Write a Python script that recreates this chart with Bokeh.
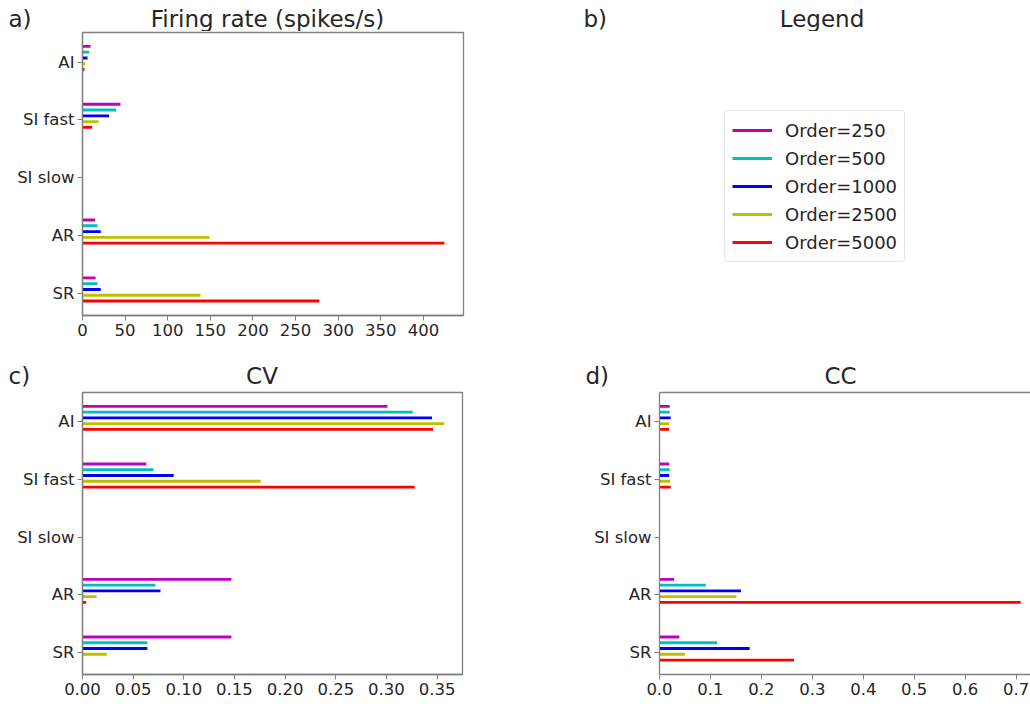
import numpy as np
from bokeh.plotting import figure
from bokeh.models import (ColumnDataSource, FixedTicker, Range1d, Label, Legend,
                          LegendItem, NumeralTickFormatter, LinearAxis)
from bokeh.layouts import row, column
from bokeh.embed import file_html
from bokeh.resources import INLINE

# ---------------- data ----------------
categories = ["SR", "AR", "SI slow", "SI fast", "AI"]
orders = ["Order=250", "Order=500", "Order=1000", "Order=2500", "Order=5000"]
colors = ["#bf00bf", "#00bfbf", "#0000ff", "#bfbf00", "#ff0000"]

# values per order, in category order SR, AR, SI slow, SI fast, AI
rate_250 = [15.3, 14.9, 0.0, 44.6, 9.4]
rate_500 = [17.6, 17.6, 0.0, 39.5, 7.8]
rate_1000 = [21.5, 21.5, 0.0, 31.3, 5.9]
rate_2500 = [138.5, 149.0, 0.0, 18.8, 3.1]
rate_5000 = [277.9, 424.6, 0.0, 11.4, 2.3]

cv_250 = [0.147, 0.147, 0.0, 0.063, 0.301]
cv_500 = [0.064, 0.072, 0.0, 0.070, 0.326]
cv_1000 = [0.064, 0.077, 0.0, 0.090, 0.345]
cv_2500 = [0.024, 0.014, 0.0, 0.176, 0.357]
cv_5000 = [0.0, 0.0036, 0.0, 0.328, 0.346]

cc_250 = [0.039, 0.029, 0.0, 0.019, 0.020]
cc_500 = [0.113, 0.091, 0.0, 0.020, 0.020]
cc_1000 = [0.177, 0.160, 0.0, 0.019, 0.022]
cc_2500 = [0.050, 0.151, 0.0, 0.021, 0.019]
cc_5000 = [0.264, 0.709, 0.0, 0.022, 0.019]

rate_ticks = [0, 50, 100, 150, 200, 250, 300, 350, 400]
cv_ticks = [0.0, 0.05, 0.10, 0.15, 0.20, 0.25, 0.30, 0.35]
cc_ticks = [0.0, 0.1, 0.2, 0.3, 0.4, 0.5, 0.6, 0.7]

panel_titles = ["Firing rate (spikes/s)", "Legend", "CV", "CC"]
panel_letters = ["a)", "b)", "c)", "d)"]

# ---------------- style ----------------
FONT = "DejaVu Sans"
SPINE = "#808080"
TEXT = "#262626"
BAR_OFFSETS = [0.27, 0.17, 0.07, -0.03, -0.13]
BAR_H = 0.05
Y0, Y1 = -0.38, 4.51
W = 1030


def strip(height, entries):
    """A thin text strip holding panel letters and panel titles."""
    s = figure(width=W, height=height, output_backend="svg", toolbar_location=None,
               title=None, x_range=Range1d(0, W), y_range=Range1d(0, height),
               x_axis_location=None, y_axis_location=None,
               min_border_left=0, min_border_right=0, min_border_top=0,
               min_border_bottom=0)
    s.grid.visible = False
    s.outline_line_color = None
    for text, x, y_from_top, align in entries:
        s.add_layout(Label(x=x, y=height - y_from_top, text=text, text_font=FONT,
                           text_font_size="23px", text_color=TEXT,
                           text_baseline="middle", text_align=align))
    return s


def bar_panel(series, ticks, fmt, xmax, width, height, bl, br, bt, bb, right_spine=True):
    p = figure(width=width, height=height, output_backend="svg", toolbar_location=None,
               title=None, x_range=Range1d(0, xmax), y_range=Range1d(Y0, Y1),
               min_border_left=bl, min_border_right=br, min_border_top=bt,
               min_border_bottom=bb)
    ypos = np.arange(len(categories))
    for vals, col, off in zip(series, colors, BAR_OFFSETS):
        src = ColumnDataSource(dict(y=ypos + off, right=vals))
        p.hbar(y="y", right="right", left=0, height=BAR_H, source=src,
               fill_color=col, line_color=None)
    p.grid.visible = False
    p.background_fill_color = "white"
    p.border_fill_color = "white"
    if right_spine:
        p.outline_line_color = SPINE
        p.outline_line_width = 1.3
    else:
        p.outline_line_color = None
        top = LinearAxis(ticker=FixedTicker(ticks=[]), axis_line_color=SPINE,
                         axis_line_width=1.3, major_tick_out=0, major_tick_in=0,
                         minor_tick_out=0, minor_tick_in=0,
                         major_label_text_alpha=0, major_label_standoff=0)
        p.add_layout(top, "above")

    p.xaxis.ticker = FixedTicker(ticks=ticks)
    p.xaxis.formatter = NumeralTickFormatter(format=fmt)
    p.yaxis.ticker = FixedTicker(ticks=list(range(len(categories))))
    p.yaxis.major_label_overrides = {i: c for i, c in enumerate(categories)}
    for ax in (p.below[0], p.left[0]):
        ax.axis_line_color = SPINE
        ax.axis_line_width = 1.3
        ax.major_tick_line_color = SPINE
        ax.major_tick_out = 5
        ax.major_tick_in = 0
        ax.minor_tick_out = 0
        ax.minor_tick_in = 0
        ax.major_label_text_font = FONT
        ax.major_label_text_font_size = "16.5px"
        ax.major_label_text_color = TEXT
        ax.major_label_standoff = 3
    return p


strip1 = strip(31, [(panel_letters[0], 8, 18.6, "left"),
                    (panel_titles[0], 267, 18.6, "center"),
                    (panel_letters[1], 583, 18.6, "left"),
                    (panel_titles[1], 821.5, 18.6, "center")])
strip2 = strip(31, [(panel_letters[2], 8, 15.1, "left"),
                    (panel_titles[2], 261.5, 15.1, "center"),
                    (panel_letters[3], 585, 15.1, "left"),
                    (panel_titles[3], 840, 15.1, "center")])

pa = bar_panel([rate_250, rate_500, rate_1000, rate_2500, rate_5000],
               rate_ticks, "0", 447.0, 515, 329, 82, 52, 1, 45)
pc = bar_panel([cv_250, cv_500, cv_1000, cv_2500, cv_5000],
               cv_ticks, "0.00", 0.3751, 560, 313, 82, 98, 1, 30)
pd_ = bar_panel([cc_250, cc_500, cc_1000, cc_2500, cc_5000],
                cc_ticks, "0.0", 0.7282, 470, 313, 99, 0, 1, 30, right_spine=False)

# ---------------- legend panel ----------------
pb = figure(width=515, height=329, output_backend="svg", toolbar_location=None,
            title=None, x_range=Range1d(0, 1), y_range=Range1d(0, 1),
            x_axis_location=None, y_axis_location=None,
            min_border_left=0, min_border_right=0, min_border_top=1, min_border_bottom=45)
pb.grid.visible = False
pb.outline_line_color = None

items = []
for name, col in zip(orders, colors):
    # legend proxy lines, kept outside the visible range
    r = pb.line(x=[-2, -1], y=[-2, -1], line_color=col, line_width=3)
    items.append(LegendItem(label=name, renderers=[r]))
legend = Legend(items=items, location=(209, 53), label_text_font=FONT,
                label_text_font_size="18px", label_text_color=TEXT,
                glyph_width=40, glyph_height=24, label_height=24, spacing=4,
                padding=7, label_standoff=13, margin=0,
                border_line_color="#cccccc", border_line_width=1,
                background_fill_color="white", background_fill_alpha=1.0)
if "border_radius" in Legend.properties():
    legend.border_radius = 4
pb.add_layout(legend)

layout = column(strip1, row(pa, pb), strip2, row(pc, pd_))
open("out.html", "w").write(file_html(layout, INLINE))
